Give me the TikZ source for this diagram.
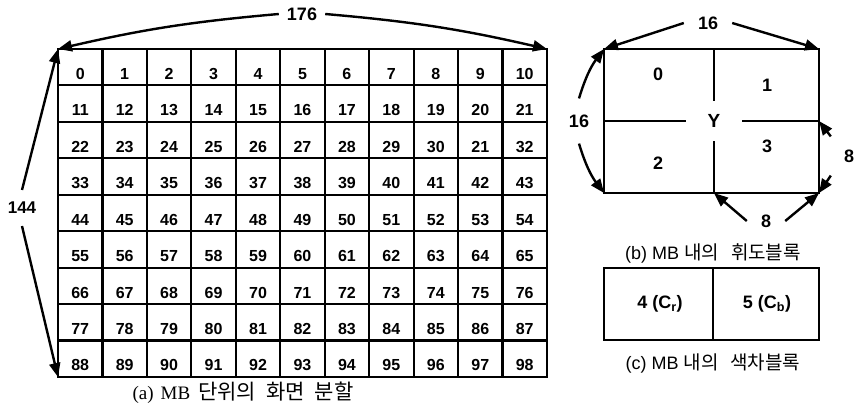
\documentclass[tikz,border=0pt]{standalone}
\usepackage{fontspec}
\setmainfont{Liberation Sans}
\newfontfamily\serifcap{Liberation Serif}
\newfontfamily\kr{Noto Sans CJK KR}
\usetikzlibrary{arrows.meta}

\begin{document}
\begin{tikzpicture}[x=1pt,y=-1pt,
  gridline/.style={line width=2.1pt},
  dimarrow/.style={line width=2.4pt,-{Triangle[length=14pt,width=11pt]}},
  dimlabel/.style={font=\fontsize{18}{20}\bfseries,inner sep=8pt},
  cellnum/.style={font=\fontsize{16}{18}\bfseries,anchor=base,inner sep=0pt},
  blknum/.style={font=\fontsize{18}{20}\bfseries,inner sep=0pt},
  caption/.style={font=\fontsize{18}{20}\selectfont,inner sep=0pt}]
  \useasboundingbox (0,0) rectangle (856,413);
  % (a) MB grid
  \coordinate (gnw) at (58,49);
  \coordinate (gne) at (547,49);
  \coordinate (gsw) at (58,377);
  \coordinate (gse) at (547,377);
  \draw[gridline] (gnw) rectangle (gse);
  \foreach \c in {1,...,10}
    \draw[gridline] ({58+44.45*\c},49) -- ({58+44.45*\c},377);
  \foreach \r in {1,...,8}
    \draw[gridline] (58,{49+36.44*\r}) -- (547,{49+36.44*\r});
  \foreach \r in {0,...,8}{
    \foreach \c in {0,...,10}{
      \pgfmathtruncatemacro\mbn{11*\r+\c}
      \ifnum\mbn=31 \def\mbn{21}\fi
      \node[cellnum] (mb\r-\c) at ({58+44.45*(\c+.5)},{49+36.44*(\r+1)-6}) {\mbn};
    }
  }
  \node[dimlabel] (w176) at (302,14) {176};
  \draw[dimarrow] (w176.west) to[bend right=4] (gnw);
  \draw[dimarrow] (w176.east) to[bend left=4] (gne);
  \node[dimlabel,font=\fontsize{17}{19}\bfseries,inner ysep=12pt] (h144) at (22,208) {144};
  \draw[dimarrow] (h144.north) -- (gnw);
  \draw[dimarrow] (h144.south) -- (gsw);
  \node[caption,font=\fontsize{19}{21}\selectfont] (capa) at (243,393)
    {{\serifcap (a)\hspace{7pt}MB}\hspace{8pt}{\kr\fontsize{21}{23}\selectfont 단위의\hspace{10pt}화면\hspace{10pt}분할}};
  % (b) luma blocks
  \coordinate (ynw) at (604,49);
  \coordinate (yne) at (819,49);
  \coordinate (ysw) at (604,193);
  \coordinate (yse) at (819,193);
  \coordinate (ytop) at (714,49);
  \coordinate (ybot) at (714,193);
  \coordinate (ylft) at (604,121);
  \coordinate (yrgt) at (819,121);
  \draw[gridline] (ynw) rectangle (yse);
  \node[blknum,font=\fontsize{19}{21}\bfseries,minimum width=56pt,minimum height=40pt] (y) at (714,121) {Y};
  \draw[gridline] (ytop) -- (y.north);
  \draw[gridline] (y.south) -- (ybot);
  \draw[gridline] (ylft) -- (y.west);
  \draw[gridline] (y.east) -- (yrgt);
  \node[blknum] (b0) at (658,74) {0};
  \node[blknum] (b1) at (767,85) {1};
  \node[blknum] (b2) at (658,163) {2};
  \node[blknum] (b3) at (767,146) {3};
  \node[dimlabel,inner xsep=14pt] (w16) at (708,23) {16};
  \draw[dimarrow] (w16.west) -- (ynw);
  \draw[dimarrow] (w16.east) -- (yne);
  \node[dimlabel,inner ysep=16pt] (h16) at (579,121) {16};
  \draw[dimarrow] (h16.north) to[bend left=10] (ynw);
  \draw[dimarrow] (h16.south) to[bend right=10] (ysw);
  \node[dimlabel,inner sep=13pt] (h8) at (849,156) {8};
  \draw[dimarrow] (h8.north west) -- (yrgt);
  \draw[dimarrow] (h8.south west) -- (yse);
  \node[dimlabel,inner xsep=14pt] (w8) at (766,221) {8};
  \draw[dimarrow] (w8.west) -- (ybot);
  \draw[dimarrow] (w8.east) -- (yse);
  \node[caption] (capb) at (713,253) {(b) MB {\kr\fontsize{19}{21}\selectfont 내의\hspace{12pt}휘도블록}};
  % (c) chroma blocks
  \coordinate (cnw) at (604,268);
  \coordinate (cse) at (819,340);
  \coordinate (ctop) at (713,268);
  \coordinate (cbot) at (713,340);
  \draw[gridline] (cnw) rectangle (cse);
  \draw[gridline] (ctop) -- (cbot);
  \node[blknum] (cr) at (660,304) {4 (C\textsubscript{r})};
  \node[blknum] (cb) at (767,304) {5 (C\textsubscript{b})};
  \node[caption] (capc) at (713,363) {(c) MB {\kr\fontsize{19}{21}\selectfont 내의\hspace{12pt}색차블록}};
\end{tikzpicture}
\end{document}
